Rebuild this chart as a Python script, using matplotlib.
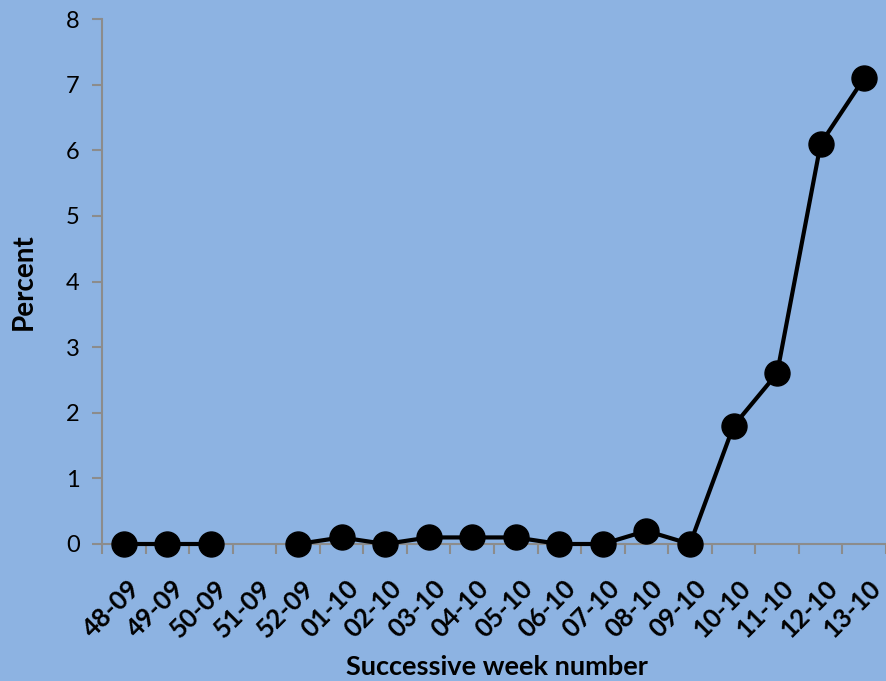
import numpy as np
import matplotlib
matplotlib.use("Agg")
from matplotlib import pyplot as plt

weeks = ["48-09", "49-09", "50-09", "51-09", "52-09", "01-10", "02-10", "03-10", "04-10",
         "05-10", "06-10", "07-10", "08-10", "09-10", "10-10", "11-10", "12-10", "13-10"]
percent = [0, 0, 0, np.nan, 0, 0.1, 0, 0.1, 0.1, 0.1, 0, 0, 0.2, 0, 1.8, 2.6, 6.1, 7.1]

bg = "#8db3e2"
plt.rcParams['font.family'] = ['Lato', 'DejaVu Sans']

fig = plt.figure(figsize=(8.86, 6.81), dpi=100, facecolor=bg)
ax = fig.add_axes([102/886, 1-544/681, 1-102/886, (544-19)/681])
ax.set_facecolor(bg)

x = np.arange(len(weeks))
ax.plot(x, percent, color="black", lw=3, marker="o", ms=18, zorder=3, clip_on=False)

ax.set_xlim(-0.5, 17.37)
ax.set_ylim(0, 8)
ax.set_yticks(range(0, 9))
ax.tick_params(axis="y", labelsize=17, length=7, width=1.5, color="#8c8c8c", pad=9)

# category ticks sit on the boundaries between weeks
ax.set_xticks(np.arange(-0.5, len(weeks), 1))
ax.set_xticklabels([])
ax.tick_params(axis="x", length=7, width=1.5, color="#8c8c8c")
for i, w in enumerate(weeks):
    ax.annotate(w, (i, 0), xycoords="data", xytext=(3, -23), textcoords="offset points",
                rotation=45, ha="right", va="top", rotation_mode="anchor",
                fontsize=18.5, fontweight="bold", annotation_clip=False)

for s in ["top", "right"]:
    ax.spines[s].set_visible(False)
for s in ["left", "bottom"]:
    ax.spines[s].set_color("#8c8c8c")
    ax.spines[s].set_linewidth(1.5)

fig.text(0.561, 0.003, "Successive week number", ha="center", va="bottom",
         fontsize=19.5, fontweight="bold")
fig.text(0.027, 0.586, "Percent", ha="center", va="center", rotation=90,
         fontsize=20, fontweight="bold")

plt.savefig("out.png", facecolor=bg)
